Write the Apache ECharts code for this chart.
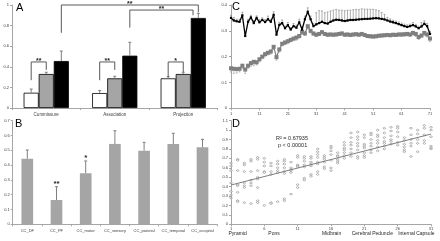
<!DOCTYPE html>
<html><head><meta charset="utf-8">
<script src="https://cdn.jsdelivr.net/npm/echarts@6/dist/echarts.min.js"></script>
<style>html,body{margin:0;padding:0;background:#fff}#c{width:440px;height:241px}</style>
</head><body><div id="c"></div>
<script>
// ---------- Panel A ----------
const aCategories = ['Commissure', 'Association', 'Projection'];
const aWhite = [0.148, 0.145, 0.288];
const aWhiteErr = [0.036, 0.025, 0.016];
const aGray = [0.330, 0.288, 0.330];
const aGrayErr = [0.017, 0.020, 0.017];
const aBlack = [0.456, 0.508, 0.874];
const aBlackErr = [0.097, 0.130, 0.045];
// [cat1, bar1, yBottom1, cat2, bar2, yBottom2, yTop]
const aBrackets = [
  [0, 0, 0.27, 0, 1, 0.37, 0.447],
  [1, 0, 0.27, 1, 1, 0.37, 0.447],
  [2, 0, 0.30, 2, 1, 0.35, 0.447],
  [0, 2, 0.73, 2, 2, 0.93, 1.0],
  [1, 2, 0.78, 2, 1.65, 0.90, 0.951]
];
const aBracketLabels = ['**', '**', '*', '**', '**'];

// ---------- Panel B ----------
const bCategories = ['CC_DF', 'CC_PF', 'CC_motor', 'CC_sensory', 'CC_parietal', 'CC_temporal', 'CC_occipital'];
const bValues = [0.443, 0.164, 0.345, 0.543, 0.497, 0.543, 0.520];
const bErr = [0.059, 0.090, 0.083, 0.089, 0.057, 0.072, 0.054];
const bStars = ['', '**', '*', '', '', '', ''];

// ---------- Panel C ----------
const cBlack = [
  0.350, 0.340, 0.337, 0.335, 0.360, 0.280, 0.335, 0.352, 0.330, 0.350,
  0.333, 0.342, 0.334, 0.345, 0.335, 0.362, 0.285, 0.323, 0.330, 0.310,
  0.322, 0.305, 0.318, 0.312, 0.333, 0.305, 0.345, 0.374, 0.345, 0.318,
  0.325, 0.330, 0.335, 0.330, 0.328, 0.335, 0.340, 0.343, 0.342, 0.340,
  0.338, 0.340, 0.342, 0.342, 0.343, 0.344, 0.345, 0.346, 0.346, 0.347,
  0.348, 0.349, 0.348, 0.346, 0.344, 0.340, 0.336, 0.333, 0.330, 0.326,
  0.322, 0.318, 0.315, 0.318, 0.322, 0.317, 0.310, 0.317, 0.327, 0.318, 0.288
];
const cBlackErr = [
  0.010, 0.012, 0.008, 0.010, 0.012, 0.010, 0.010, 0.008, 0.010, 0.008,
  0.010, 0.008, 0.010, 0.012, 0.010, 0.012, 0.010, 0.010, 0.012, 0.008,
  0.010, 0.008, 0.010, 0.010, 0.012, 0.010, 0.012, 0.015, 0.012, 0.010,
  0.045, 0.048, 0.042, 0.040, 0.045, 0.042, 0.040, 0.040, 0.038, 0.040,
  0.040, 0.040, 0.038, 0.040, 0.040, 0.038, 0.040, 0.038, 0.038, 0.036,
  0.035, 0.032, 0.030, 0.025, 0.020, 0.012, 0.010, 0.008, 0.008, 0.008,
  0.008, 0.008, 0.008, 0.008, 0.010, 0.008, 0.008, 0.015, 0.012, 0.010, 0.010
];
const cGray = [
  0.155, 0.153, 0.152, 0.153, 0.165, 0.150, 0.165, 0.175, 0.180, 0.178,
  0.190, 0.200, 0.210, 0.215, 0.220, 0.238, 0.198, 0.228, 0.250, 0.255,
  0.260, 0.265, 0.270, 0.274, 0.280, 0.296, 0.290, 0.318, 0.300, 0.290,
  0.285, 0.288, 0.295, 0.288, 0.285, 0.286, 0.285, 0.286, 0.288, 0.290,
  0.285, 0.286, 0.284, 0.286, 0.287, 0.285, 0.288, 0.284, 0.280, 0.279,
  0.278, 0.279, 0.281, 0.282, 0.283, 0.284, 0.283, 0.285, 0.284, 0.286,
  0.286, 0.287, 0.288, 0.286, 0.292, 0.288, 0.276, 0.282, 0.292, 0.286, 0.270
];
const cGrayErr = [
  0.015, 0.018, 0.015, 0.012, 0.012, 0.015, 0.010, 0.012, 0.015, 0.010,
  0.010, 0.008, 0.010, 0.008, 0.010, 0.010, 0.012, 0.010, 0.008, 0.008,
  0.010, 0.008, 0.008, 0.010, 0.008, 0.010, 0.008, 0.010, 0.008, 0.008,
  0.006, 0.006, 0.006, 0.006, 0.006, 0.006, 0.006, 0.006, 0.006, 0.006,
  0.006, 0.006, 0.006, 0.006, 0.006, 0.006, 0.006, 0.006, 0.006, 0.006,
  0.006, 0.006, 0.006, 0.006, 0.006, 0.006, 0.006, 0.006, 0.006, 0.006,
  0.008, 0.008, 0.008, 0.008, 0.008, 0.010, 0.010, 0.008, 0.010, 0.010, 0.012
];
const cXTicks = [1, 11, 21, 31, 41, 51, 61, 71];

// ---------- Panel D ----------
const dColumns = [
  [0.65, 0.62, 0.57, 0.44, 0.35, 0.31, 0.28],
  [0.69, 0.68, 0.57, 0.42, 0.41, 0.34, 0.25, 0.24],
  [0.65, 0.63, 0.56, 0.44, 0.41, 0.39, 0.23],
  [0.69, 0.67, 0.56, 0.47, 0.44, 0.41, 0.22],
  [0.71, 0.69, 0.57, 0.50, 0.48, 0.39, 0.25, 0.23],
  [0.70, 0.66, 0.62, 0.56, 0.55, 0.20],
  [0.65, 0.62, 0.56, 0.53, 0.23, 0.22],
  [0.67, 0.64, 0.60, 0.57, 0.55, 0.24],
  [0.69, 0.67, 0.64, 0.60, 0.56, 0.54, 0.27, 0.25],
  [0.66, 0.60, 0.58, 0.57, 0.55, 0.32],
  [0.73, 0.71, 0.63, 0.62, 0.61, 0.42, 0.39],
  [0.72, 0.70, 0.67, 0.63, 0.61, 0.49, 0.47],
  [0.72, 0.70, 0.66, 0.64, 0.62, 0.53, 0.51],
  [0.80, 0.77, 0.74, 0.71, 0.66, 0.64, 0.56, 0.53],
  [0.73, 0.71, 0.69, 0.66, 0.61, 0.59],
  [0.83, 0.81, 0.78, 0.74, 0.68, 0.60, 0.57],
  [0.76, 0.73, 0.72, 0.69, 0.67, 0.65],
  [0.87, 0.84, 0.81, 0.79, 0.76, 0.73, 0.70],
  [0.97, 0.92, 0.87, 0.84, 0.80, 0.76, 0.72],
  [0.98, 0.93, 0.90, 0.86, 0.83, 0.79, 0.72, 0.70],
  [0.95, 0.92, 0.85, 0.83, 0.81, 0.76, 0.73, 0.71],
  [0.97, 0.95, 0.90, 0.86, 0.83, 0.79, 0.76],
  [1.00, 0.95, 0.93, 0.89, 0.86, 0.82, 0.78],
  [1.02, 0.97, 0.92, 0.88, 0.86, 0.83, 0.80],
  [1.03, 0.99, 0.94, 0.90, 0.88, 0.85],
  [1.04, 1.02, 0.98, 0.93, 0.87, 0.84],
  [0.92, 0.89, 0.85, 0.82, 0.79, 0.77],
  [1.02, 0.95, 0.90, 0.86, 0.83, 0.72],
  [1.00, 0.96, 0.90, 0.86, 0.77],
  [1.05, 1.02, 0.95, 0.89, 0.86],
  [1.03, 1.00, 0.93, 0.83, 0.81, 0.80]
];
const dTrendX = [1, 31];
const dTrendY = [0.417, 0.958];
const dXTicks = [1, 6, 11, 16, 21, 26, 31];
const dRegions = ['Pyramid', 'Pons', 'Midbrain', 'Cerebral Peduncle', 'Internal Capsule'];
const dRegionPos = [2.0, 7.45, 16.1, 22.2, 28.8];

// ---------- build ----------
const FONT = 'Liberation Sans, Arial, sans-serif';
const AXIS = '#a6a6a6';
const TXT = '#404040';
const ERR = '#7f7f7f';
const BAR_FRAC = 0.22;

function axisBase(extra) {
  return Object.assign({
    axisLine: { show: true, lineStyle: { color: AXIS, width: 1 } },
    axisTick: { show: true, length: 2, lineStyle: { color: AXIS } },
    splitLine: { show: false },
    axisLabel: { color: TXT, fontSize: 4, fontFamily: FONT, margin: 3 }
  }, extra);
}

function errA(barIdx, vals, errs) {
  return {
    type: 'custom', xAxisIndex: 0, yAxisIndex: 0, z: 5,
    data: vals.map((v, i) => [i, v, errs[i]]),
    renderItem: function (params, api) {
      const cat = api.value(0), v = api.value(1), e = api.value(2);
      const band = api.size([1, 0])[0];
      const p0 = api.coord([cat, v]), p1 = api.coord([cat, v + e]);
      const x = p0[0] + (barIdx - 1) * BAR_FRAC * band;
      return { type: 'group', children: [
        { type: 'line', shape: { x1: x, y1: p0[1], x2: x, y2: p1[1] }, style: { stroke: ERR, lineWidth: 1 } },
        { type: 'line', shape: { x1: x - 1.5, y1: p1[1], x2: x + 1.5, y2: p1[1] }, style: { stroke: ERR, lineWidth: 1 } }
      ] };
    }
  };
}

const series = [];
// A bars
[[aWhite, '#ffffff', '#000000'], [aGray, '#a5a5a5', '#000000'], [aBlack, '#000000', '#000000']].forEach(function (d) {
  series.push({ type: 'bar', xAxisIndex: 0, yAxisIndex: 0, data: d[0], barWidth: (BAR_FRAC * 100) + '%', barGap: '0%',
    itemStyle: { color: d[1], borderColor: d[2], borderWidth: 0.8 } });
});
series.push(errA(0, aWhite, aWhiteErr));
series.push(errA(1, aGray, aGrayErr));
series.push(errA(2, aBlack, aBlackErr));
// A brackets
series.push({
  type: 'custom', xAxisIndex: 0, yAxisIndex: 0, z: 6, clip: false,
  data: aBrackets,
  renderItem: function (params, api) {
    const band = api.size([1, 0])[0];
    const c1 = api.value(0), b1 = api.value(1), y1 = api.value(2);
    const c2 = api.value(3), b2 = api.value(4), y2 = api.value(5), yt = api.value(6);
    const pA = api.coord([c1, y1]), pB = api.coord([c2, y2]), pT = api.coord([c1, yt]);
    const xa = pA[0] + (b1 - 1) * BAR_FRAC * band;
    const xb = pB[0] + (b2 - 1) * BAR_FRAC * band;
    return { type: 'group', children: [
      { type: 'polyline', shape: { points: [[xa, pA[1]], [xa, pT[1]], [xb, pT[1]], [xb, pB[1]]] },
        style: { stroke: '#595959', lineWidth: 1, fill: null } },
      { type: 'text', style: { text: aBracketLabels[params.dataIndex], x: (xa + xb) / 2, y: pT[1] + 3,
        align: 'center', verticalAlign: 'bottom', fontSize: 7, fontFamily: FONT, fontWeight: 'bold', fill: '#262626' } }
    ] };
  }
});
// B bars
series.push({ type: 'bar', xAxisIndex: 1, yAxisIndex: 1, data: bValues, barWidth: '40%',
  itemStyle: { color: '#a5a5a5' } });
series.push({
  type: 'custom', xAxisIndex: 1, yAxisIndex: 1, z: 5, clip: false,
  data: bValues.map((v, i) => [i, v, bErr[i]]),
  renderItem: function (params, api) {
    const cat = api.value(0), v = api.value(1), e = api.value(2);
    const p0 = api.coord([cat, v]), p1 = api.coord([cat, v + e]);
    const x = p0[0];
    return { type: 'group', children: [
      { type: 'line', shape: { x1: x, y1: p0[1], x2: x, y2: p1[1] }, style: { stroke: ERR, lineWidth: 1 } },
      { type: 'line', shape: { x1: x - 1.5, y1: p1[1], x2: x + 1.5, y2: p1[1] }, style: { stroke: ERR, lineWidth: 1 } },
      { type: 'text', style: { text: bStars[params.dataIndex], x: x, y: p1[1] + 1, align: 'center', verticalAlign: 'bottom',
        fontSize: 8, fontFamily: FONT, fontWeight: 'bold', fill: '#262626' } }
    ] };
  }
});
// C error bars & lines
function errC(vals, errs, dir, color) {
  return {
    type: 'custom', xAxisIndex: 2, yAxisIndex: 2, z: 1,
    data: vals.map((v, i) => [i + 1, v, errs[i]]),
    renderItem: function (params, api) {
      const xv = api.value(0), v = api.value(1), e = api.value(2);
      const p0 = api.coord([xv, v]), p1 = api.coord([xv, v + dir * e]);
      return { type: 'group', children: [
        { type: 'line', shape: { x1: p0[0], y1: p0[1], x2: p0[0], y2: p1[1] }, style: { stroke: color, lineWidth: 0.7 } },
        { type: 'line', shape: { x1: p0[0] - 1, y1: p1[1], x2: p0[0] + 1, y2: p1[1] }, style: { stroke: color, lineWidth: 0.7 } }
      ] };
    }
  };
}
series.push(errC(cBlack, cBlackErr, 1, '#8c8c8c'));
series.push(errC(cGray, cGrayErr, -1, '#a6a6a6'));
series.push({ type: 'line', xAxisIndex: 2, yAxisIndex: 2, data: cGray.map((v, i) => [i + 1, v]), z: 2,
  symbol: 'emptyRect', symbolSize: 2, lineStyle: { color: '#7f7f7f', width: 1.2 }, itemStyle: { color: '#7f7f7f', borderWidth: 0.6 } });
series.push({ type: 'line', xAxisIndex: 2, yAxisIndex: 2, data: cBlack.map((v, i) => [i + 1, v]), z: 3,
  symbol: 'rect', symbolSize: 2.2, lineStyle: { color: '#000', width: 1.3 }, itemStyle: { color: '#000' } });
// D scatter
const dPoints = [];
dColumns.forEach(function (col, i) { col.forEach(function (v) { dPoints.push([i + 1, v]); }); });
series.push({ type: 'scatter', xAxisIndex: 3, yAxisIndex: 3, data: dPoints, symbol: 'diamond', symbolSize: [3, 2],
  itemStyle: { color: '#ffffff', borderColor: '#8c8c8c', borderWidth: 0.6 } });
series.push({ type: 'line', xAxisIndex: 3, yAxisIndex: 3, data: dTrendX.map((x, i) => [x, dTrendY[i]]), symbol: 'none',
  lineStyle: { color: '#7f7f7f', width: 1 } });

const option = {
  animation: false,
  backgroundColor: '#ffffff',
  grid: [
    { left: 12, top: 5, width: 205.5, height: 103 },
    { left: 12.7, top: 120.7, width: 204.4, height: 103.6 },
    { left: 231, top: 5, width: 199, height: 103.3 },
    { left: 231, top: 120.7, width: 200, height: 103.6 }
  ],
  xAxis: [
    axisBase({ type: 'category', gridIndex: 0, data: aCategories, axisLabel: { color: TXT, fontSize: 4.5, fontFamily: FONT, margin: 4 } }),
    axisBase({ type: 'category', gridIndex: 1, data: bCategories, axisLabel: { color: TXT, fontSize: 4, fontFamily: FONT, margin: 5, interval: 0 } }),
    axisBase({ type: 'value', gridIndex: 2, min: 1, max: 71, axisLabel: { color: TXT, fontSize: 4, fontFamily: FONT, margin: 4, customValues: cXTicks }, axisTick: { show: true, length: 2, lineStyle: { color: AXIS }, customValues: cXTicks } }),
    axisBase({ type: 'value', gridIndex: 3, min: 1, max: 31, axisLabel: { color: TXT, fontSize: 4, fontFamily: FONT, margin: 3, customValues: dXTicks }, axisTick: { show: true, length: 2, lineStyle: { color: AXIS }, customValues: dXTicks } }),
    { type: 'value', gridIndex: 3, min: 1, max: 31, position: 'bottom', axisLine: { show: false }, axisTick: { show: false }, splitLine: { show: false },
      axisLabel: { color: '#262626', fontSize: 5, fontFamily: FONT, margin: 7, customValues: dRegionPos,
        formatter: function (v) { let best = 0; dRegionPos.forEach(function (p, i) { if (Math.abs(p - v) < Math.abs(dRegionPos[best] - v)) best = i; }); return dRegions[best]; } } }
  ],
  yAxis: [
    axisBase({ type: 'value', gridIndex: 0, min: 0, max: 1, interval: 0.2 }),
    axisBase({ type: 'value', gridIndex: 1, min: 0, max: 0.7, interval: 0.1 }),
    axisBase({ type: 'value', gridIndex: 2, min: 0, max: 0.4, interval: 0.1, axisLabel: { color: TXT, fontSize: 4, fontFamily: FONT, margin: 4 } }),
    axisBase({ type: 'value', gridIndex: 3, min: 0, max: 1.1, interval: 0.1 })
  ],
  graphic: [
    { type: 'text', left: 16, top: 2, style: { text: 'A', fontSize: 11, fontFamily: FONT, fill: '#000' } },
    { type: 'text', left: 15, top: 118, style: { text: 'B', fontSize: 11, fontFamily: FONT, fill: '#000' } },
    { type: 'text', left: 232, top: 1, style: { text: 'C', fontSize: 11, fontFamily: FONT, fill: '#000' } },
    { type: 'text', left: 232, top: 118, style: { text: 'D', fontSize: 11, fontFamily: FONT, fill: '#000' } },
    { type: 'text', left: 276, top: 135, style: { text: 'R\u00b2 = 0.67935', fontSize: 5.5, fontFamily: FONT, fill: '#262626' } },
    { type: 'text', left: 278, top: 142, style: { text: 'p < 0.00001', fontSize: 5.5, fontFamily: FONT, fill: '#262626' } }
  ],
  series: series
};
const chart = echarts.init(document.getElementById('c'), null, { renderer: 'canvas' });
chart.setOption(option);
</script>
</body></html>
